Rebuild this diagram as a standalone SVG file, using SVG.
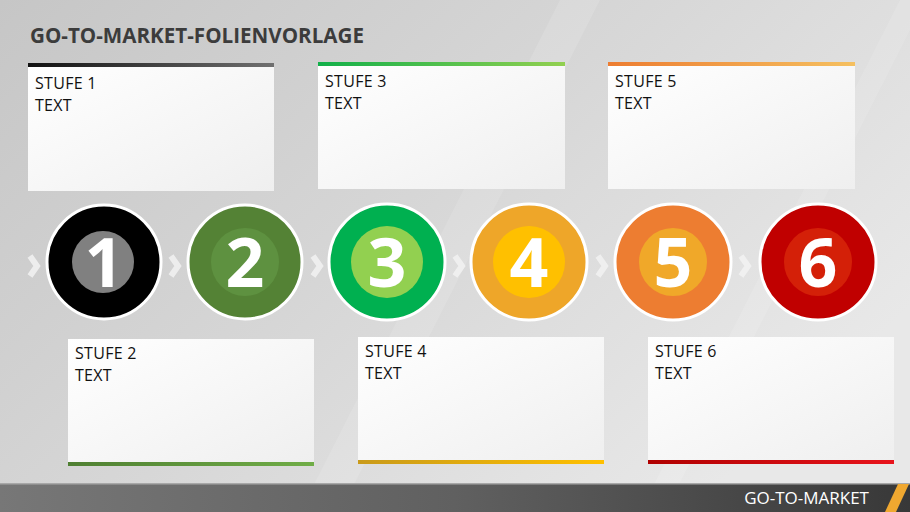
<svg xmlns="http://www.w3.org/2000/svg" width="910" height="512" viewBox="0 0 910 512">
<defs>
<linearGradient id="bg" x1="0" y1="0" x2="1" y2="0.6">
<stop offset="0" stop-color="#c6c6c6"/>
<stop offset="0.5" stop-color="#d6d6d6"/>
<stop offset="1" stop-color="#e8e8e8"/>
</linearGradient>
<linearGradient id="card" x1="0" y1="0" x2="1" y2="1">
<stop offset="0" stop-color="#ffffff"/>
<stop offset="0.5" stop-color="#f7f7f7"/>
<stop offset="1" stop-color="#efefef"/>
</linearGradient>
<linearGradient id="foot" x1="0" y1="0" x2="1" y2="0">
<stop offset="0" stop-color="#777777"/>
<stop offset="0.5" stop-color="#606060"/>
<stop offset="1" stop-color="#383838"/>
</linearGradient>
<linearGradient id="b1" x1="0" x2="1"><stop offset="0" stop-color="#111"/><stop offset="1" stop-color="#707070"/></linearGradient>
<linearGradient id="b2" x1="0" x2="1"><stop offset="0" stop-color="#4f7f32"/><stop offset="1" stop-color="#70ad47"/></linearGradient>
<linearGradient id="b3" x1="0" x2="1"><stop offset="0" stop-color="#12b04a"/><stop offset="1" stop-color="#92d050"/></linearGradient>
<linearGradient id="b4" x1="0" x2="1"><stop offset="0" stop-color="#c99a1a"/><stop offset="1" stop-color="#ffc000"/></linearGradient>
<linearGradient id="b5" x1="0" x2="1"><stop offset="0" stop-color="#ed7d31"/><stop offset="1" stop-color="#f5c060"/></linearGradient>
<linearGradient id="b6" x1="0" x2="1"><stop offset="0" stop-color="#b00000"/><stop offset="1" stop-color="#e8141c"/></linearGradient>
</defs>
<style>
.card{fill:url(#card);}
.lbl{font-family:"Open Sans","Noto Sans","DejaVu Sans",sans-serif;font-size:16px;letter-spacing:0.3px;fill:#111;}
.num{font-family:"Open Sans","Noto Sans","DejaVu Sans",sans-serif;font-size:68px;font-weight:bold;fill:#fff;text-anchor:middle;}
.ring{stroke:#fff;stroke-width:3;}
.chev{fill:none;stroke:#f2f2f2;stroke-width:6;stroke-linecap:butt;stroke-linejoin:miter;opacity:0.85;}
</style>
<rect width="910" height="512" fill="url(#bg)"/>
<g opacity="0.12" fill="#ffffff">
<polygon points="300,512 560,0 600,0 340,512"/>
<polygon points="640,512 900,0 910,0 910,30 665,512"/>
</g>
<text x="30" y="43" font-family="'Open Sans','Noto Sans',sans-serif" font-size="20.6" font-weight="bold" fill="#3c3c3c">GO-TO-MARKET-FOLIENVORLAGE</text>

<g id="step1-card">
<rect class="card" x="28" y="67" width="246" height="124"/>
<rect x="28" y="63" width="246" height="4" fill="url(#b1)"/>
<text class="lbl" x="35" y="89">STUFE 1</text>
<text class="lbl" x="35" y="111">TEXT</text>
</g>
<g id="step3-card">
<rect class="card" x="318" y="66" width="247" height="123"/>
<rect x="318" y="62" width="247" height="4" fill="url(#b3)"/>
<text class="lbl" x="325" y="87">STUFE 3</text>
<text class="lbl" x="325" y="109">TEXT</text>
</g>
<g id="step5-card">
<rect class="card" x="608" y="66" width="247" height="123"/>
<rect x="608" y="62" width="247" height="4" fill="url(#b5)"/>
<text class="lbl" x="615" y="87">STUFE 5</text>
<text class="lbl" x="615" y="109">TEXT</text>
</g>
<g id="step2-card">
<rect class="card" x="68" y="339" width="246" height="123"/>
<rect x="68" y="462" width="246" height="4" fill="url(#b2)"/>
<text class="lbl" x="75" y="359">STUFE 2</text>
<text class="lbl" x="75" y="381">TEXT</text>
</g>
<g id="step4-card">
<rect class="card" x="358" y="337" width="246" height="123"/>
<rect x="358" y="460" width="246" height="4" fill="url(#b4)"/>
<text class="lbl" x="365" y="357">STUFE 4</text>
<text class="lbl" x="365" y="379">TEXT</text>
</g>
<g id="step6-card">
<rect class="card" x="648" y="337" width="246" height="123"/>
<rect x="648" y="460" width="246" height="4" fill="url(#b6)"/>
<text class="lbl" x="655" y="357">STUFE 6</text>
<text class="lbl" x="655" y="379">TEXT</text>
</g>

<g id="connectors">
<polyline class="chev" points="30,256 37,266 30,276"/>
<polyline class="chev" points="171,256 178,266 171,276"/>
<polyline class="chev" points="313,256 320,266 313,276"/>
<polyline class="chev" points="455,256 462,266 455,276"/>
<polyline class="chev" points="598,256 605,266 598,276"/>
<polyline class="chev" points="741,256 748,266 741,276"/>
</g>

<g id="circle1">
<circle class="ring" cx="104" cy="262" r="57" fill="#000000"/>
<circle cx="103" cy="262" r="31" fill="#808080"/>
<text class="num" x="104" y="287">1</text>
</g>
<g id="circle2">
<circle class="ring" cx="245" cy="262" r="57" fill="#548235"/>
<circle cx="245" cy="262" r="34" fill="#5e9140"/>
<text class="num" x="245" y="287">2</text>
</g>
<g id="circle3">
<circle class="ring" cx="387" cy="262" r="58" fill="#00b050"/>
<circle cx="387" cy="262" r="36" fill="#92d050"/>
<text class="num" x="387" y="287">3</text>
</g>
<g id="circle4">
<circle class="ring" cx="529" cy="262" r="58" fill="#eea629"/>
<circle cx="529" cy="262" r="36" fill="#ffc000"/>
<text class="num" x="529" y="287">4</text>
</g>
<g id="circle5">
<circle class="ring" cx="673" cy="262" r="58" fill="#ed7d31"/>
<circle cx="673" cy="262" r="34" fill="#f0a829"/>
<text class="num" x="673" y="287">5</text>
</g>
<g id="circle6">
<circle class="ring" cx="818" cy="262" r="58" fill="#c00000"/>
<circle cx="818" cy="262" r="34" fill="#d42008"/>
<text class="num" x="818" y="287">6</text>
</g>

<g id="footer">
<rect x="0" y="483" width="910" height="29" fill="url(#foot)"/>
<rect x="0" y="483" width="910" height="1.5" fill="#a8a8a8"/>
<text x="869" y="504" text-anchor="end" font-family="'Open Sans','Noto Sans',sans-serif" font-size="17" fill="#ffffff">GO-TO-MARKET</text>
<polygon points="898,484 909,484 896,512 885,512" fill="#f0a830"/>
</g>
</svg>
